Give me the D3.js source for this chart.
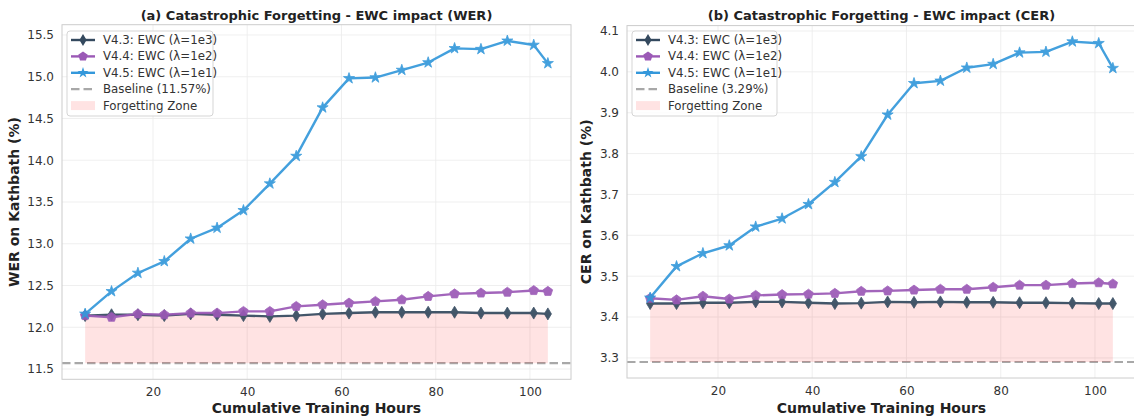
<!DOCTYPE html>
<html>
<head>
<meta charset="utf-8">
<script src="https://cdn.jsdelivr.net/npm/d3@7"></script>
<style>
  body { margin: 0; background: #fff; }
  svg { font-family: "DejaVu Sans", sans-serif; display: block; }
</style>
</head>
<body>
<div id="chart"></div>
<script>
// Data
var hours = [5.6, 11.2, 16.8, 22.4, 28.0, 33.6, 39.2, 44.8, 50.4, 56.0,
             61.6, 67.2, 72.8, 78.4, 84.0, 89.6, 95.2, 100.8, 103.8];
var werV43 = [12.14, 12.15, 12.15, 12.14, 12.16, 12.15, 12.14, 12.13, 12.14, 12.16,
              12.17, 12.18, 12.18, 12.18, 12.18, 12.17, 12.17, 12.17, 12.16];
var werV44 = [12.14, 12.12, 12.16, 12.15, 12.17, 12.17, 12.19, 12.19, 12.25, 12.27,
              12.29, 12.31, 12.33, 12.37, 12.40, 12.41, 12.42, 12.44, 12.43];
var werV45 = [12.16, 12.43, 12.65, 12.79, 13.06, 13.19, 13.40, 13.72, 14.05, 14.63,
              14.98, 14.99, 15.08, 15.17, 15.34, 15.33, 15.43, 15.38, 15.16];
var cerV43 = [3.433, 3.433, 3.435, 3.435, 3.437, 3.437, 3.435, 3.433, 3.434, 3.437,
              3.436, 3.437, 3.436, 3.436, 3.435, 3.435, 3.434, 3.433, 3.433];
var cerV44 = [3.446, 3.442, 3.451, 3.444, 3.453, 3.455, 3.456, 3.458, 3.463, 3.464,
              3.466, 3.468, 3.468, 3.473, 3.478, 3.478, 3.482, 3.484, 3.481];
var cerV45 = [3.447, 3.524, 3.556, 3.575, 3.621, 3.641, 3.676, 3.730, 3.793, 3.895,
              3.972, 3.978, 4.010, 4.019, 4.047, 4.049, 4.074, 4.070, 4.009];
var werBaseline = 11.57;
var cerBaseline = 3.29;
var seriesNames = ['V4.3: EWC (\u03bb=1e3)', 'V4.4: EWC (\u03bb=1e2)', 'V4.5: EWC (\u03bb=1e1)'];
var xTicks = [20, 40, 60, 80, 100];
var werTicks = [11.5, 12.0, 12.5, 13.0, 13.5, 14.0, 14.5, 15.0, 15.5];
var cerTicks = [3.3, 3.4, 3.5, 3.6, 3.7, 3.8, 3.9, 4.0, 4.1];

var colors = ['#34495e', '#9b59b6', '#3498db'];
var markers = ['thin_diamond', 'pentagon', 'star'];

var svg = d3.select('#chart').append('svg')
  .attr('width', 1134)
  .attr('height', 419);

function markerPath(type) {
  if (type === 'star') return d3.symbol().type(d3.symbolStar).size(38)();
  var p = d3.path();
  if (type === 'thin_diamond') {
    p.moveTo(0, -6); p.lineTo(3.6, 0); p.lineTo(0, 6); p.lineTo(-3.6, 0); p.closePath();
    return p.toString();
  }
  for (var i = 0; i < 5; i++) {
    var a = -Math.PI / 2 + i * 2 * Math.PI / 5;
    var px = 5 * Math.cos(a), py = 5 * Math.sin(a);
    if (i === 0) p.moveTo(px, py); else p.lineTo(px, py);
  }
  p.closePath();
  return p.toString();
}

function drawPanel(cfg) {
  var g = svg.append('g');
  var left = cfg.left, right = cfg.left + 509, top = cfg.top, bottom = cfg.bottom;

  // limits with 5% margin like matplotlib
  var xmin = d3.min(hours), xmax = d3.max(hours), xpad = (xmax - xmin) * 0.05;
  var all = cfg.series[0].concat(cfg.series[1], cfg.series[2], [cfg.baseline]);
  var ymin = d3.min(all), ymax = d3.max(all), ypad = (ymax - ymin) * 0.05;

  var x = d3.scaleLinear().domain([xmin - xpad, xmax + xpad]).range([left, right]);
  var y = d3.scaleLinear().domain([ymin - ypad, ymax + ypad]).range([bottom, top]);

  // grid
  g.selectAll('.gx').data(xTicks).enter().append('line')
    .attr('x1', function(d) { return x(d); }).attr('x2', function(d) { return x(d); })
    .attr('y1', top).attr('y2', bottom)
    .attr('stroke', '#ebebeb').attr('stroke-width', 0.8);
  g.selectAll('.gy').data(cfg.yTicks).enter().append('line')
    .attr('x1', left).attr('x2', right)
    .attr('y1', function(d) { return y(d); }).attr('y2', function(d) { return y(d); })
    .attr('stroke', '#ebebeb').attr('stroke-width', 0.8);

  // axes
  var xAxis = d3.axisBottom(x).tickValues(xTicks).tickSize(0).tickPadding(8).tickFormat(d3.format('d'));
  var gx = g.append('g').attr('transform', 'translate(0,' + bottom + ')').call(xAxis);
  var yAxis = d3.axisLeft(y).tickValues(cfg.yTicks).tickSize(0).tickPadding(8).tickFormat(d3.format('.1f'));
  var gy = g.append('g').attr('transform', 'translate(' + left + ',0)').call(yAxis);
  [gx, gy].forEach(function(a) {
    a.select('.domain').remove();
    a.selectAll('text').attr('font-size', 12).attr('fill', '#333')
      .attr('font-family', '"DejaVu Sans", sans-serif');
  });

  // baseline
  g.append('line')
    .attr('x1', left).attr('x2', right)
    .attr('y1', y(cfg.baseline)).attr('y2', y(cfg.baseline))
    .attr('stroke', '#999').attr('stroke-opacity', 0.85)
    .attr('stroke-width', 2.2).attr('stroke-dasharray', '8.5,4');

  // forgetting zone
  var area = d3.area()
    .x(function(d, i) { return x(hours[i]); })
    .y0(y(cfg.baseline))
    .y1(function(d) { return y(d); });
  g.append('path').datum(cfg.series[0])
    .attr('d', area)
    .attr('fill', '#ff0000').attr('fill-opacity', 0.11);

  // series
  var line = d3.line()
    .x(function(d, i) { return x(hours[i]); })
    .y(function(d) { return y(d); });
  cfg.series.forEach(function(s, k) {
    var sg = g.append('g').attr('opacity', 0.92);
    sg.append('path').datum(s)
      .attr('d', line)
      .attr('fill', 'none').attr('stroke', colors[k]).attr('stroke-width', 2.4)
      .attr('stroke-linejoin', 'round');
    sg.selectAll('.m').data(s).enter().append('path')
      .attr('d', markerPath(markers[k]))
      .attr('transform', function(d, i) { return 'translate(' + x(hours[i]) + ',' + y(d) + ')'; })
      .attr('fill', colors[k]).attr('stroke', colors[k]).attr('stroke-width', 0.8);
  });

  // frame
  g.append('rect')
    .attr('x', left).attr('y', top).attr('width', right - left).attr('height', bottom - top)
    .attr('fill', 'none').attr('stroke', '#cccccc').attr('stroke-width', 1);

  // titles
  g.append('text')
    .attr('x', (left + right) / 2).attr('y', 20)
    .attr('text-anchor', 'middle').attr('font-size', 13).attr('font-weight', 'bold').attr('fill', '#222')
    .text(cfg.title);
  g.append('text')
    .attr('x', (left + right) / 2).attr('y', 413)
    .attr('text-anchor', 'middle').attr('font-size', 14).attr('font-weight', 'bold').attr('fill', '#222')
    .text('Cumulative Training Hours');
  g.append('text')
    .attr('transform', 'translate(' + cfg.ylabelX + ',' + ((top + bottom) / 2) + ') rotate(-90)')
    .attr('text-anchor', 'middle').attr('font-size', 14).attr('font-weight', 'bold').attr('fill', '#222')
    .text(cfg.ylabel);

  // legend
  var lx = left + 5, ly = 31;
  var lg = g.append('g').attr('transform', 'translate(' + lx + ',' + ly + ')');
  lg.append('rect').attr('width', cfg.legendW).attr('height', 85).attr('rx', 3)
    .attr('fill', '#fff').attr('fill-opacity', 0.8).attr('stroke', '#d5d5d5');
  var labels = seriesNames.concat(['Baseline (' + cfg.baseline.toFixed(2) + '%)', 'Forgetting Zone']);
  labels.forEach(function(t, i) {
    var ry = 9 + i * 16.4;
    if (i < 3) {
      lg.append('line').attr('x1', 4).attr('x2', 28).attr('y1', ry).attr('y2', ry)
        .attr('stroke', colors[i]).attr('stroke-width', 2.4);
      lg.append('path').attr('d', markerPath(markers[i]))
        .attr('transform', 'translate(16,' + ry + ')').attr('fill', colors[i]);
    } else if (i === 3) {
      lg.append('line').attr('x1', 4).attr('x2', 28).attr('y1', ry).attr('y2', ry)
        .attr('stroke', '#999').attr('stroke-opacity', 0.85).attr('stroke-width', 2.2)
        .attr('stroke-dasharray', '8.5,4');
    } else {
      lg.append('rect').attr('x', 4).attr('y', ry - 4.5).attr('width', 24).attr('height', 9)
        .attr('fill', '#ff0000').attr('fill-opacity', 0.11);
    }
    lg.append('text').attr('x', 36).attr('y', ry + 4).attr('font-size', 11.8).attr('fill', '#333')
      .text(t);
  });
}

drawPanel({
  left: 62, top: 24.7, bottom: 379.3,
  series: [werV43, werV44, werV45], baseline: werBaseline, yTicks: werTicks,
  title: '(a) Catastrophic Forgetting - EWC impact (WER)',
  ylabel: 'WER on Kathbath (%)', ylabelX: 19, legendW: 146
});
drawPanel({
  left: 627, top: 25.6, bottom: 378,
  series: [cerV43, cerV44, cerV45], baseline: cerBaseline, yTicks: cerTicks,
  title: '(b) Catastrophic Forgetting - EWC impact (CER)',
  ylabel: 'CER on Kathbath (%)', ylabelX: 591, legendW: 145
});
</script>
</body>
</html>
